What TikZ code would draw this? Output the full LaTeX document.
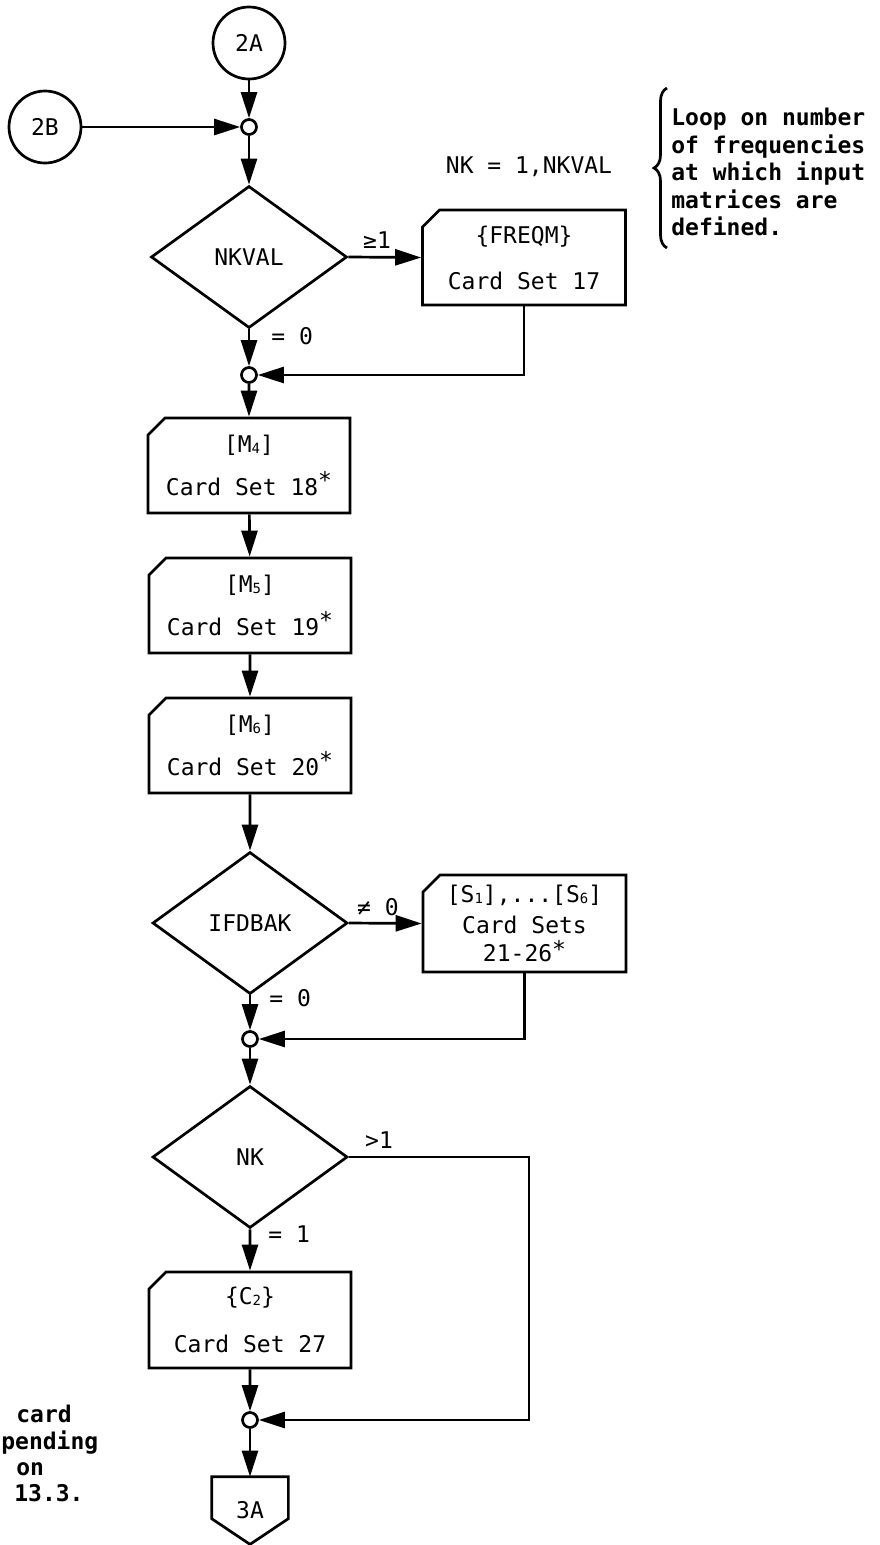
\documentclass[tikz,border=0pt]{standalone}
\usepackage{fontspec}
\usetikzlibrary{shapes.geometric,shapes.misc,arrows.meta,decorations.pathreplacing}
\newfontfamily\monof{DejaVu Sans Mono}
\newcommand{\lsub}[1]{\raisebox{-1pt}{\fontsize{14}{14}\selectfont #1}}
\newcommand{\astx}{\raisebox{7pt}{*}}
\newcommand{\astlow}{\raisebox{4pt}{*}}
\begin{document}
\begin{tikzpicture}[x=1pt, y=-1pt, line width=2.7pt,
  font=\monof\fontsize{23}{27}\selectfont,
  conn/.style={draw, circle, minimum size=72pt, inner sep=0pt},
  junc/.style={draw, circle, minimum size=15pt, inner sep=0pt, fill=white},
  decbox/.style={draw, diamond, minimum width=196pt, minimum height=142pt, inner sep=0pt},
  cardbox/.style={draw, chamfered rectangle, chamfered rectangle corners=north west,
    chamfered rectangle xsep=8pt, chamfered rectangle ysep=9pt,
    minimum width=202pt, minimum height=95pt, inner sep=0pt, align=center},
  arrowline/.style={-{Triangle[length=26pt,width=16pt]}},
  edgelab/.style={inner sep=0pt},
  notetext/.style={font=\monof\bfseries\fontsize{23}{27.5}\selectfont, inner sep=0pt, align=left}]

\fill[white] (0,0) rectangle (880,1545);
\useasboundingbox (0,0) rectangle (880,1545);

% nodes
\node[conn] (c2A) at (249,43) {2A};
\node[conn] (c2B) at (45,127) {2B};
\node[junc] (j1) at (249,127) {};
\node[decbox] (nkval) at (249,257) {NKVAL};
\node[cardbox, minimum width=203pt] (freqm) at (524,257.5) {\{FREQM\}\\[19pt]Card Set 17};
\node[junc] (j2) at (249,375) {};
\node[cardbox] (m4) at (249,465.5) {[M\lsub{4}]\\[15pt]Card Set 18\astx};
\node[cardbox] (m5) at (250,605.5) {[M\lsub{5}]\\[15pt]Card Set 19\astx};
\node[cardbox] (m6) at (250,745.5) {[M\lsub{6}]\\[15pt]Card Set 20\astx};
\node[decbox, minimum width=195pt] (ifd) at (250,923) {IFDBAK};
\node[cardbox, minimum width=203pt, minimum height=97pt] (smat) at (524.5,923.5)
  {[S\lsub{1}],...[S\lsub{6}]\\[4pt]Card Sets\\[1pt]21-26\astlow};
\node[junc] (j3) at (250,1039) {};
\node[decbox, minimum width=195pt] (nk) at (250,1157) {NK};
\node[cardbox, minimum height=96pt] (c2) at (250,1320) {\{C\lsub{2}\}\\[21pt]Card Set 27};
\node[junc] (j4) at (250,1420) {};
\node[minimum width=74pt, minimum height=65pt, inner sep=0pt] (t3A) at (250,1510.5) {3A};
\draw (t3A.north west) -- (t3A.north east) -- ([yshift=-42pt]t3A.north east)
  -- (t3A.south) -- ([yshift=-42pt]t3A.north west) -- cycle;

\coordinate (nkr) at (529,1157);

% connectors
\draw[arrowline] (c2A) -- (j1);
\draw[arrowline] (c2B) -- (j1);
\draw[arrowline] (j1) -- (nkval);
\draw[arrowline] (nkval.east) -- (freqm.west);
\draw[arrowline] (nkval.south) -- (j2);
\draw[arrowline] (freqm.south) |- (j2.east);
\draw[arrowline] (j2) -- (m4);
\draw[arrowline] (m4) -- (m5);
\draw[arrowline] (m5) -- (m6);
\draw[arrowline] (m6) -- (ifd);
\draw[arrowline] (ifd.east) -- (smat.west);
\draw[arrowline] (ifd.south) -- (j3);
\draw[arrowline] (smat.south) |- (j3.east);
\draw[arrowline] (j3) -- (nk);
\draw[arrowline] (nk.south) -- (c2);
\draw[arrowline] (nk.east) -- (nkr) |- (j4.east);
\draw[arrowline] (c2) -- (j4);
\draw[arrowline] (j4) -- (t3A);

% edge labels
\node[edgelab] (l1) at (377,240) {≥1};
\node[edgelab, anchor=west] (l2) at (270,336) {= 0};
\node[edgelab] (l3) at (378,907) {≠ 0};
\node[edgelab, anchor=west] (l4) at (268,998) {= 0};
\node[edgelab] (l5) at (379,1140) {>1};
\node[edgelab, anchor=west] (l6) at (267,1234) {= 1};

% loop annotation
\node[edgelab] (loopvar) at (529,167) {NK = 1,NKVAL};
\draw[decorate, decoration={brace, amplitude=13pt}, line width=2.7pt] (667,248) -- (667,88);
\node[notetext, anchor=west] (loopnote) at (670,172)
  {Loop on number\\of frequencies\\at which input\\matrices are\\defined.};

% left note fragment
\node[notetext, anchor=base west] (n1) at (15,1422) {card};
\node[notetext, anchor=base west] (n2) at (0,1449) {pending};
\node[notetext, anchor=base west] (n3) at (15,1475) {on};
\node[notetext, anchor=base west] (n4) at (13,1501) {13.3.};
\end{tikzpicture}
\end{document}
